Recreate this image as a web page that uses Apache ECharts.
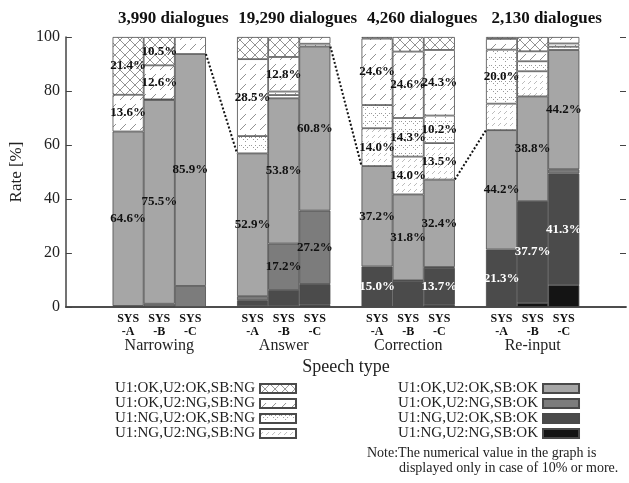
<!DOCTYPE html>
<html><head><meta charset="utf-8">
<script src="https://cdn.jsdelivr.net/npm/echarts@6/dist/echarts.min.js"></script>
<style>html,body{margin:0;padding:0;background:#fff}#c{width:629px;height:483px}</style>
</head><body><div id="c"></div>
<script>
// ---------- data ----------
const speechTypes = ['Narrowing', 'Answer', 'Correction', 'Re-input'];
const systems = ['-A', '-B', '-C'];
const dialogueCounts = ['3,990', '19,290', '4,260', '2,130'];
const yTicks = [0, 20, 40, 60, 80, 100];
// bar order: N-A,N-B,N-C, A-A,A-B,A-C, C-A,C-B,C-C, R-A,R-B,R-C
const ngNgOk = [0, 0, 0, 0.3, 0.3, 0.8, 0, 0, 0.8, 0, 1.5, 8.1];
const ngOkOk = [0.2, 0.2, 0, 2.2, 6.0, 7.7, 15.0, 9.7, 13.7, 21.3, 37.7, 41.3];
const okNgOk = [0.2, 1.0, 7.8, 1.5, 17.2, 27.2, 0, 0.2, 0.3, 0, 0, 1.6];
const okOkOk = [64.6, 75.5, 85.9, 52.9, 53.8, 60.8, 37.2, 31.8, 32.4, 44.2, 38.8, 44.2];
const ngNgNg = [0, 0.2, 0, 0, 1.2, 0, 14.0, 14.0, 13.5, 9.8, 9.3, 1.2];
const ngOkNg = [0, 0, 0, 6.4, 1.3, 1.0, 8.6, 14.3, 10.2, 20.0, 3.7, 1.2];
const okNgNg = [13.6, 12.6, 6.3, 28.5, 12.8, 2.5, 24.6, 24.6, 24.3, 4.0, 3.7, 2.4];
const okOkNg = [21.4, 10.5, 0, 8.2, 7.4, 0, 0.6, 5.4, 4.8, 0.7, 5.3, 0];
const outcomeNames = ['U1:NG,U2:NG,SB:OK', 'U1:NG,U2:OK,SB:OK', 'U1:OK,U2:NG,SB:OK', 'U1:OK,U2:OK,SB:OK',
                      'U1:NG,U2:NG,SB:NG', 'U1:NG,U2:OK,SB:NG', 'U1:OK,U2:NG,SB:NG', 'U1:OK,U2:OK,SB:NG'];
const outcomeValues = [ngNgOk, ngOkOk, okNgOk, okOkOk, ngNgNg, ngOkNg, okNgNg, okOkNg];
const noteLines = ['Note:The numerical value in the graph is', 'displayed only in case of 10% or more.'];

// ---------- layout helpers ----------
const FONT = "'Liberation Serif','Times New Roman',serif";
const leadSlots = 2, slotsPerGroup = 4, totalSlots = 19;
const slotOf = (g, s) => leadSlots + g * slotsPerGroup + s;
const slotInfo = {};
speechTypes.forEach((t, g) => systems.forEach((sy, s) => { slotInfo[slotOf(g, s)] = { g, s }; }));
const categories = [];
for (let i = 0; i < totalSlots; i++) categories.push(slotInfo[i] ? speechTypes[slotInfo[i].g] + systems[slotInfo[i].s] : 'gap' + i);

// ---------- patterns ----------
function pat(w, h, draw) {
  const c = document.createElement('canvas'); c.width = w; c.height = h;
  const x = c.getContext('2d'); x.fillStyle = '#fff'; x.fillRect(0, 0, w, h); draw(x);
  return { image: c, repeat: 'repeat' };
}
const crossFill = pat(10, 10, x => { x.strokeStyle = '#777'; x.lineWidth = 0.8; x.beginPath(); x.moveTo(0, 0); x.lineTo(10, 10); x.moveTo(10, 0); x.lineTo(0, 10); x.stroke(); });
const diagFill = pat(10, 10, x => { x.strokeStyle = '#777'; x.lineWidth = 0.8; x.beginPath(); x.moveTo(0, 10); x.lineTo(6, 4); x.stroke(); });
const dotFill = pat(10, 8, x => { x.fillStyle = '#9a9a9a'; [[1, 1], [3, 3], [5, 5], [7, 3], [9, 1], [5, 1]].forEach(p => x.fillRect(p[0], p[1], 1, 1)); });
const denseFill = pat(6, 6, x => { x.strokeStyle = '#a0a0a0'; x.lineWidth = 0.7; x.beginPath(); x.moveTo(0, 6); x.lineTo(3, 3); x.stroke(); });
const fills = ['#141414', '#4b4b4b', '#7c7c7c', '#a6a6a6', denseFill, dotFill, diagFill, crossFill];
const labelColors = ['#fff', '#fff', '#111', '#111', '#111', '#111', '#111', '#111'];

const series = outcomeNames.map((name, k) => {
  const data = new Array(totalSlots).fill(null);
  outcomeValues[k].forEach((v, b) => { if (v > 0) data[slotOf(Math.floor(b / 3), b % 3)] = v; });
  return {
    name, type: 'bar', stack: 'all', data, barCategoryGap: '0%',
    itemStyle: { color: fills[k], borderColor: '#4a4a4a', borderWidth: 0.8 },
    label: { show: true, position: 'inside', color: labelColors[k], fontFamily: FONT, fontWeight: 'bold', fontSize: 13,
      formatter: p => (p.value >= 10 ? p.value.toFixed(1) + '%' : '') },
    emphasis: { disabled: true }
  };
});

const chart = echarts.init(document.getElementById('c'), null, { renderer: 'canvas' });
const legendBase = { orient: 'vertical', align: 'right', icon: 'rect', itemWidth: 36, itemHeight: 9, itemGap: 0, padding: 0,
  selectedMode: false, textStyle: { fontFamily: FONT, fontSize: 15, lineHeight: 12, color: '#222' } };
chart.setOption({
  animation: false,
  grid: { left: 63, right: 0, top: 37, bottom: 176 },
  legend: [
    Object.assign({ data: outcomeNames.slice(4).reverse(), left: 115, top: 381 }, legendBase),
    Object.assign({ data: outcomeNames.slice(0, 4).reverse(), left: 398, top: 381 }, legendBase)
  ],
  xAxis: [{
    type: 'category', data: categories, boundaryGap: false, position: 'bottom',
    axisLine: { lineStyle: { color: '#444', width: 1.5 } }, axisTick: { show: false },
    axisLabel: { interval: 0, margin: 5, fontFamily: FONT, fontWeight: 'bold', fontSize: 12, lineHeight: 13, color: '#111',
      formatter: (v, i) => { const f = slotInfo[i]; if (!f) return ''; let t = 'SYS\n' + systems[f.s]; if (f.s === 1) t += '\n{g|' + speechTypes[f.g] + '}'; return t; },
      rich: { g: { fontFamily: FONT, fontWeight: 'normal', fontSize: 16, lineHeight: 15, color: '#222' } } },
    name: 'Speech type', nameLocation: 'middle', nameGap: 41,
    nameTextStyle: { fontFamily: FONT, fontSize: 18, color: '#222' }
  }, {
    type: 'category', data: categories, boundaryGap: false, position: 'top',
    axisLine: { lineStyle: { color: '#444', width: 1.5 } }, axisTick: { show: false },
    axisLabel: { interval: 0, margin: 10, padding: [0, 0, 0, 28], fontFamily: FONT, fontWeight: 'bold', fontSize: 17, color: '#111',
      formatter: (v, i) => { const f = slotInfo[i]; return f && f.s === 1 ? dialogueCounts[f.g] + ' dialogues' : ''; } }
  }],
  yAxis: [{
    type: 'value', min: yTicks[0], max: yTicks[yTicks.length - 1], interval: 20, position: 'left',
    axisLine: { show: true, lineStyle: { color: '#444', width: 1.5 } },
    axisTick: { show: true, inside: true, length: 6, lineStyle: { color: '#444' } },
    splitLine: { show: false },
    axisLabel: { fontFamily: FONT, fontSize: 16, color: '#222', margin: 6 },
    name: 'Rate [%]', nameLocation: 'middle', nameGap: 28,
    nameTextStyle: { fontFamily: FONT, fontSize: 17, color: '#222' }
  }, {
    type: 'value', min: yTicks[0], max: yTicks[yTicks.length - 1], interval: 20, position: 'right',
    axisLine: { show: false }, axisTick: { show: true, inside: true, length: 6, lineStyle: { color: '#444' } },
    axisLabel: { show: false }, splitLine: { show: false }
  }],
  series
});

// dotted connectors: from the SB:OK top of SYS-C to the SB:OK top of the next group's SYS-A
const okTotal = b => ngNgOk[b] + ngOkOk[b] + okNgOk[b] + okOkOk[b];
const px = s => chart.convertToPixel({ xAxisIndex: 0 }, s);
const py = v => chart.convertToPixel({ yAxisIndex: 0 }, v);
const halfBar = (px(1) - px(0)) / 2;
const graphics = [];
for (let g = 0; g < speechTypes.length - 1; g++) {
  const c = g * 3 + 2, a = (g + 1) * 3;
  graphics.push({ type: 'line', z: 10, shape: { x1: px(slotOf(g, 2)) + halfBar, y1: py(okTotal(c)), x2: px(slotOf(g + 1, 0)) - halfBar, y2: py(okTotal(a)) },
    style: { stroke: '#111', lineWidth: 2, lineDash: [2, 2] } });
}
graphics.push({ type: 'text', left: 367, top: 446, style: { text: noteLines[0], fontFamily: FONT, fontSize: 14, fill: '#222' } });
graphics.push({ type: 'text', left: 399, top: 461, style: { text: noteLines[1], fontFamily: FONT, fontSize: 14, fill: '#222' } });
chart.setOption({ graphic: graphics });
</script>
</body></html>
